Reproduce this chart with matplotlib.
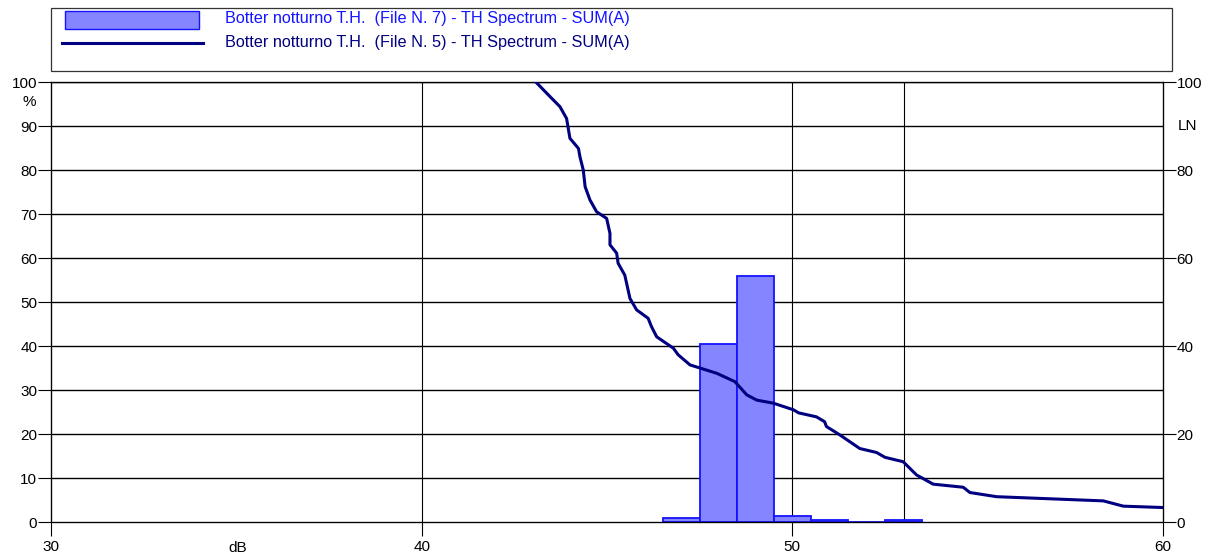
import matplotlib.pyplot as plt
from matplotlib.patches import Rectangle
from matplotlib.lines import Line2D

plt.rcParams['font.family'] = ['Liberation Sans', 'DejaVu Sans']
plt.rcParams['font.size'] = 11

# TH spectrum histogram, 1 dB classes (File N. 7)
bar_db = [47, 48, 49, 50, 51, 52, 53]
bar_pct = [0.9, 40.4, 56.0, 1.4, 0.4, 0.1, 0.4]

# cumulative LN curve (File N. 5)
ln_db = [43.08, 43.46, 43.73, 43.91, 44.0, 44.23, 44.27, 44.36, 44.41, 44.54,
         44.72, 44.99, 45.08, 45.08, 45.26, 45.30, 45.48, 45.62, 45.80, 46.11,
         46.20, 46.34, 46.79, 46.92, 47.24, 47.96, 48.45, 48.77, 49.04, 49.49,
         50.03, 50.17, 50.65, 50.87, 50.92, 51.28, 51.82, 52.27, 52.50, 52.99,
         53.35, 53.80, 54.61, 54.79, 55.51, 58.39, 58.93, 59.96]
ln_pct = [100.0, 96.7, 94.4, 91.7, 87.2, 84.9, 83.0, 80.0, 76.2, 73.2,
          70.5, 69.0, 65.6, 63.0, 61.1, 58.8, 56.1, 50.8, 48.2, 46.3,
          44.4, 42.1, 39.5, 38.0, 35.7, 33.8, 31.9, 28.9, 27.7, 27.0,
          25.5, 24.8, 23.9, 22.8, 21.7, 19.8, 16.7, 15.8, 14.7, 13.7,
          10.7, 8.6, 7.9, 6.7, 5.75, 4.8, 3.6, 3.3]

labels = ['Botter notturno T.H.  (File N. 7) - TH Spectrum - SUM(A)',
          'Botter notturno T.H.  (File N. 5) - TH Spectrum - SUM(A)']
bar_face = '#8585ff'
bar_edge = '#1414ff'
line_col = '#000080'

W, H = 1207, 555
fig = plt.figure(figsize=(W / 100, H / 100), dpi=100)
L, R, T, B = 51, 1163, 82, 522
ax = fig.add_axes([L / W, 1 - B / H, (R - L) / W, (B - T) / H])

ax.set_xlim(30, 60)
ax.set_ylim(0, 100)
ax.set_yticks(range(0, 101, 10))
ax.set_xticks([30, 40, 50, 60])
ax.set_xticklabels(['30', '40', '50', '60'])
ax.tick_params(direction='out', length=9.4, width=0.8, pad=0.5)
ax.tick_params(axis='x', length=10, pad=3)
for y in range(10, 101, 10):
    ax.axhline(y, color='black', lw=1.0, zorder=1)
for x in [40, 50, 53]:
    ax.axvline(x, color='black', lw=0.8, zorder=1)
for s in ax.spines.values():
    s.set_linewidth(0.9)

ax.bar(bar_db, bar_pct, width=1.0, facecolor=bar_face, edgecolor=bar_edge,
       linewidth=1.3, zorder=2)

ax2 = ax.twinx()
ax2.set_ylim(0, 100)
ax2.set_yticks(range(0, 101, 20))
ax2.tick_params(direction='out', length=9.4, width=0.8, pad=0.5)
ax2.plot(ln_db, ln_pct, color=line_col, lw=2.2, zorder=3)

ax.text(-0.02, 0.955, '%', transform=ax.transAxes, ha='center', va='center')
ax2.text(1.013, 0.9, 'LN', transform=ax2.transAxes, ha='left', va='center')
ax.text(0.168, -26 / (B - T), 'dB', transform=ax.transAxes, ha='center', va='center')

# legend box
fig.patches.append(Rectangle((51 / W, 1 - 71 / H), (1172 - 51) / W, 63 / H,
                             transform=fig.transFigure, fill=False,
                             edgecolor='#333333', lw=0.9))
fig.patches.append(Rectangle((65 / W, 1 - 29 / H), 134 / W, 18 / H,
                             transform=fig.transFigure, facecolor=bar_face,
                             edgecolor=bar_edge, lw=1.0))
fig.lines.append(Line2D([62 / W, 203 / W], [1 - 43 / H, 1 - 43 / H],
                        transform=fig.transFigure, color=line_col, lw=2.2))
fig.text(225 / W, 1 - 19 / H, labels[0], color=bar_edge, va='center', ha='left',
         fontsize=11.7)
fig.text(225 / W, 1 - 42 / H, labels[1], color=line_col, va='center', ha='left',
         fontsize=11.7)

fig.savefig('out.png', dpi=100)
